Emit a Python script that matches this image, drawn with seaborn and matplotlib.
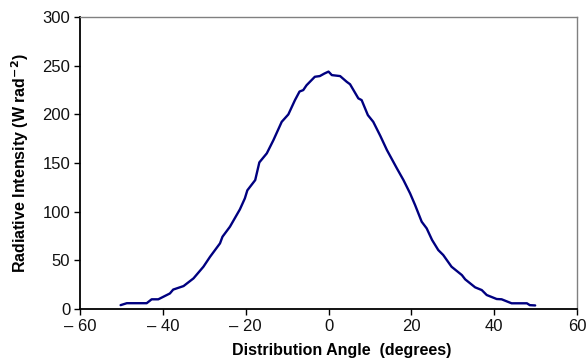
import matplotlib
matplotlib.use("Agg")
import matplotlib.pyplot as plt
import seaborn as sns
import pandas as pd

angle = [-50.2, -48.7, -46.0, -43.9, -42.7, -41.1, -38.3, -37.5, -35.0, -32.6,
         -30.2, -28.6, -26.2, -25.6, -23.8, -21.4, -20.2, -19.6, -17.7, -16.7,
         -14.9, -13.3, -11.3, -9.7, -8.1, -7.0, -6.1, -5.3, -3.3, -2.1,
         -1.0, 0.0, 0.8, 2.8, 4.4, 5.2, 7.2, 8.0, 9.5, 10.8,
         12.5, 14.1, 16.5, 18.1, 19.7, 20.9, 22.5, 23.7, 25.0, 26.5,
         27.7, 29.7, 32.2, 33.0, 35.4, 37.0, 38.2, 40.6, 41.8, 44.2,
         47.9, 48.6, 49.9]
intensity = [4.0, 6.0, 6.0, 6.0, 10.0, 10.0, 16.0, 20.0, 23.6, 31.5,
             43.5, 53.7, 67.5, 74.3, 84.6, 102.4, 113.7, 122.0, 132.5, 150.7,
             160.0, 173.6, 192.4, 200.0, 214.7, 223.5, 225.0, 230.0, 238.7, 239.4,
             242.0, 244.0, 240.4, 239.4, 233.5, 231.0, 216.5, 214.7, 199.3, 192.4,
             178.0, 163.4, 144.6, 132.5, 118.8, 106.9, 89.7, 82.9, 71.0, 60.6,
             55.5, 43.5, 34.9, 30.5, 22.3, 19.5, 14.4, 10.3, 10.0, 5.9,
             5.9, 4.0, 3.7]

xticks = [-60, -40, -20, 0, 20, 40, 60]
xticklabels = ["\u2013 60", "\u2013 40", "\u2013 20", "0", "20", "40", "60"]
yticks = [0, 50, 100, 150, 200, 250, 300]

df = pd.DataFrame({"angle": angle, "intensity": intensity})

sns.set_theme(style="ticks")
plt.rcParams["font.family"] = ["Liberation Sans", "DejaVu Sans"]
plt.rcParams["text.color"] = "black"
plt.rcParams["axes.labelcolor"] = "black"

fig = plt.figure(figsize=(5.87, 3.64), dpi=100)
ax = fig.add_axes([0.1363, 0.151, 0.8467, 0.802])

sns.lineplot(data=df, x="angle", y="intensity", ax=ax, color="#000080",
             linewidth=1.7, sort=False)

ax.set_xlim(-60, 60)
ax.set_ylim(0, 300)
ax.set_xticks(xticks)
ax.set_xticklabels(xticklabels)
ax.set_yticks(yticks)
ax.tick_params(axis="both", labelsize=12, length=4, width=1.0,
               direction="out", colors="black", labelcolor="#111111", pad=3)

for side in ["left", "bottom"]:
    ax.spines[side].set_color("black")
    ax.spines[side].set_linewidth(1.3)
for side in ["top", "right"]:
    ax.spines[side].set_visible(True)
    ax.spines[side].set_color("#808080")
    ax.spines[side].set_linewidth(1.0)

ax.set_xlabel("Distribution Angle  (degrees)", fontsize=11.5, fontweight="bold",
              labelpad=8, color="black")
ax.xaxis.set_label_coords(0.527, -0.115)
ax.set_ylabel("Radiative Intensity (W rad$^{\\mathbf{-2}}$)", fontsize=11.5,
              fontweight="bold", labelpad=8, color="black")

fig.savefig("out.png", dpi=100)
